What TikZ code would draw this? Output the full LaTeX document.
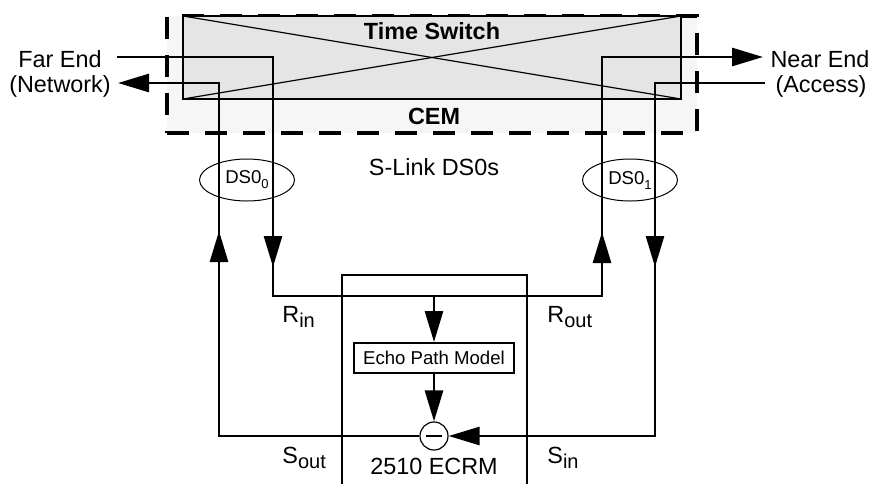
\documentclass[tikz,border=0pt]{standalone}
\usepackage{fontspec}
\setmainfont{Liberation Sans}
\usepackage{xcolor}
\usetikzlibrary{arrows.meta,shapes.geometric}
\definecolor{swgray}{RGB}{229,229,229}
\definecolor{cemgray}{RGB}{246,246,246}
\newcommand{\lowidx}[2][10]{\raisebox{-2.5pt}{\fontsize{#1}{#1}\selectfont #2}}

\begin{document}
\begin{tikzpicture}[x=0.5pt, y=-0.5pt,
        t/.style={font=\fontsize{11.7}{13}\selectfont, inner sep=0pt},
        tb/.style={t, font=\fontsize{11.7}{13}\selectfont\bfseries},
        sig/.style={line width=1.35pt},
        arr/.style={sig, -{Triangle[length=15.5pt,width=9pt]}},
        cembox/.style={draw, dash pattern=on 11pt off 8pt, line width=1.6pt,
                  fill=cemgray, minimum width=265pt, minimum height=58.5pt,
                  inner sep=0pt, outer sep=0pt},
        swbox/.style={draw, line width=1pt, fill=swgray,
                  minimum width=249pt, minimum height=41.5pt,
                  inner sep=0pt, outer sep=0pt},
        ds/.style={draw, ellipse, line width=0.5pt, minimum width=47.5pt,
                  minimum height=21pt, inner sep=0pt,
                  font=\fontsize{9.3}{10}\selectfont},
        epmbox/.style={draw, line width=1pt, minimum width=80pt,
                  minimum height=15pt, inner sep=0pt,
                  font=\fontsize{9.3}{10}\selectfont},
        sumc/.style={draw, circle, line width=0.6pt, minimum size=14pt,
                  inner sep=0pt, fill=white}
      ]
        \useasboundingbox (0,0) rectangle (876,483);

        \node[cembox] (cem) at (432,74.5) {};
        \node[swbox] (ts) at (432,57.5) {};
        \draw[line width=0.6pt] (ts.north west) -- (ts.south east);
        \draw[line width=0.6pt] (ts.south west) -- (ts.north east);
        \node[tb, anchor=base] (tslbl) at (432,39) {Time Switch};
        \node[tb, anchor=base] (cemlbl) at (434,124) {CEM};

        \node[t, anchor=base] (far1) at (60,67) {Far End};
        \node[t, anchor=base] (far2) at (60,92) {(Network)};
        \node[t, anchor=base] (near1) at (820,67) {Near End};
        \node[t, anchor=base] (near2) at (821,92) {(Access)};
        \node[t, anchor=base] (slink) at (434,175) {S-Link DS0s};

        \draw[sig] (342,484) |- (527,275) -- (527,484);
        \node[t, anchor=base] (ecrm) at (434,474) {2510 ECRM};
        \node[epmbox] (epm) at (434,358) {Echo Path Model};
        \node[sumc] (sum) at (434,436) {};
        \draw[line width=1.2pt] ([xshift=-4.2pt]sum.center) -- ([xshift=4.2pt]sum.center);

        \coordinate (rA) at (117,57);
        \coordinate (rB) at (273,57);
        \coordinate (rC) at (273,296);
        \coordinate (rD) at (602,296);
        \coordinate (rE) at (602,57);
        \coordinate (rF) at (763,57);
        \coordinate (rM) at (434,296);
        \coordinate (sA) at (765,83);
        \coordinate (sB) at (655,83);
        \coordinate (sC) at (655,436);
        \coordinate (sD) at (219,436);
        \coordinate (sE) at (219,83);
        \coordinate (sF) at (118,83);
        \coordinate (tRin) at (273,267);
        \coordinate (tRout) at (602,232);
        \coordinate (tSin) at (655,267);
        \coordinate (tSout) at (219,231);

        \draw[arr] (rA) -| (rC) -| (rE) -- (rF);
        \draw[arr] (rB) -- (tRin);
        \draw[arr] (rD) -- (tRout);
        \draw[arr] (rM) -- (epm.north);
        \draw[arr] (epm.south) -- (sum.north);
        \draw[arr] (sA) -| (sC) -- (sum.east);
        \draw[arr] (sB) -- (tSin);
        \draw[arr] (sum.west) -| (sE) -- (sF);
        \draw[arr] (sD) -- (tSout);

        \node[ds] (ds0) at (247,180) {DS0\lowidx[6.5]{0}};
        \node[ds] (ds1) at (630,180) {DS0\lowidx[6.5]{1}};

        \node[t, anchor=base west] (rin) at (282,322) {R\lowidx{in}};
        \node[t, anchor=base west] (rout) at (547,322) {R\lowidx{out}};
        \node[t, anchor=base west] (sout) at (282,463) {S\lowidx{out}};
        \node[t, anchor=base west] (sin) at (547,463) {S\lowidx{in}};
      \end{tikzpicture}
\end{document}
